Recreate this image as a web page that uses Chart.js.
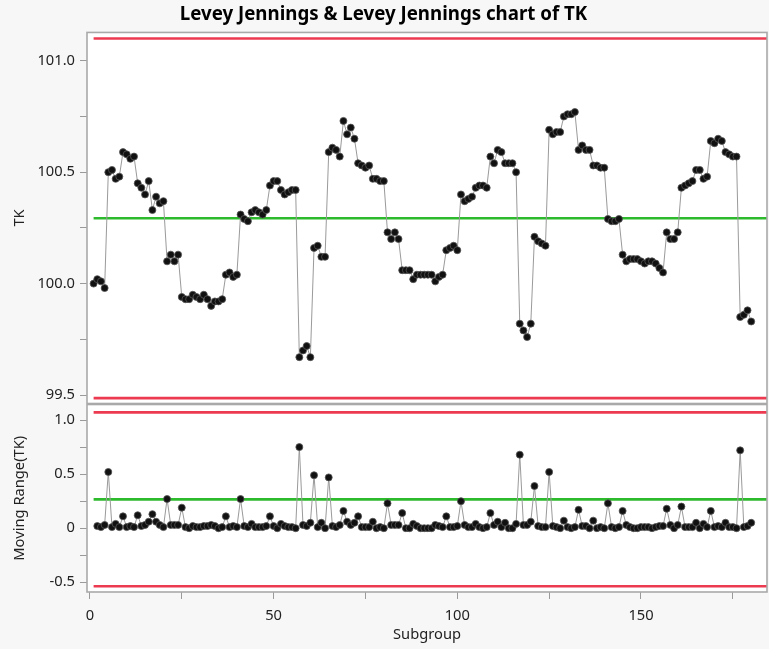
<!DOCTYPE html>
<html><head><meta charset="utf-8">
<script src="https://cdn.jsdelivr.net/npm/chart.js@4.4.1/dist/chart.umd.min.js"></script>
<style>
html,body{margin:0;padding:0;background:#f7f7f7;}
#wrap{position:relative;width:769px;height:649px;overflow:hidden;}
#c1{position:absolute;left:0;top:0;}
#c2{position:absolute;left:0;top:404px;}
</style></head><body>
<div id="wrap"><canvas id="c1" width="769" height="404"></canvas><canvas id="c2" width="769" height="245"></canvas></div>
<script>
// ---- data ----
const tkValues = [
100.00,100.02,100.01,99.98,100.50,100.51,100.47,100.48,100.59,100.58,
100.56,100.57,100.45,100.43,100.40,100.46,100.33,100.39,100.36,100.37,
100.10,100.13,100.10,100.13,99.94,99.93,99.93,99.95,99.94,99.93,
99.95,99.93,99.90,99.92,99.92,99.93,100.04,100.05,100.03,100.04,
100.31,100.29,100.28,100.32,100.33,100.32,100.31,100.33,100.44,100.46,
100.46,100.42,100.40,100.41,100.42,100.42,99.67,99.70,99.72,99.67,
100.16,100.17,100.12,100.12,100.59,100.61,100.60,100.57,100.73,100.67,
100.70,100.65,100.54,100.53,100.52,100.53,100.47,100.47,100.46,100.46,
100.23,100.20,100.23,100.20,100.06,100.06,100.06,100.02,100.04,100.04,
100.04,100.04,100.04,100.01,100.03,100.04,100.15,100.16,100.17,100.15,
100.40,100.37,100.38,100.39,100.43,100.44,100.44,100.43,100.57,100.54,
100.60,100.59,100.54,100.54,100.54,100.50,99.82,99.79,99.76,99.82,
100.21,100.19,100.18,100.17,100.69,100.67,100.68,100.68,100.75,100.76,
100.76,100.77,100.60,100.62,100.60,100.60,100.53,100.53,100.52,100.52,
100.29,100.28,100.28,100.29,100.13,100.10,100.11,100.11,100.11,100.10,
100.09,100.10,100.10,100.09,100.07,100.05,100.23,100.20,100.20,100.23,
100.43,100.44,100.45,100.46,100.51,100.51,100.47,100.48,100.64,100.63,
100.65,100.64,100.59,100.58,100.57,100.57,99.85,99.86,99.88,99.83
];
// moving range values for subgroups 2..180
const movingRange = [
0.02,0.01,0.03,0.52,0.01,0.04,0.01,0.11,0.01,
0.02,0.01,0.12,0.02,0.03,0.06,0.13,0.06,0.03,0.01,
0.27,0.03,0.03,0.03,0.19,0.01,0.00,0.02,0.01,0.01,
0.02,0.02,0.03,0.02,0.00,0.01,0.11,0.01,0.02,0.01,
0.27,0.02,0.01,0.04,0.01,0.01,0.01,0.02,0.11,0.02,
0.00,0.04,0.02,0.01,0.01,0.00,0.75,0.03,0.02,0.05,
0.49,0.01,0.05,0.00,0.47,0.02,0.01,0.03,0.16,0.06,
0.03,0.05,0.11,0.01,0.01,0.01,0.06,0.00,0.01,0.00,
0.23,0.03,0.03,0.03,0.14,0.00,0.00,0.04,0.02,0.00,
0.00,0.00,0.00,0.03,0.02,0.01,0.11,0.01,0.01,0.02,
0.25,0.03,0.01,0.01,0.04,0.01,0.00,0.01,0.14,0.03,
0.06,0.01,0.05,0.00,0.00,0.04,0.68,0.03,0.03,0.06,
0.39,0.02,0.01,0.01,0.52,0.02,0.01,0.00,0.07,0.01,
0.00,0.01,0.17,0.02,0.02,0.00,0.07,0.00,0.01,0.00,
0.23,0.01,0.00,0.01,0.16,0.03,0.01,0.00,0.00,0.01,
0.01,0.01,0.00,0.01,0.02,0.02,0.18,0.03,0.00,0.03,
0.20,0.01,0.01,0.01,0.05,0.00,0.04,0.01,0.16,0.01,
0.02,0.01,0.05,0.01,0.01,0.00,0.72,0.01,0.02,0.05
];
const tkLimits = [101.10, 100.293, 99.486];     // UCL, centre, LCL
const mrLimits = [1.071, 0.267, -0.537];        // UCL, centre, LCL
const tkMajorTicks = [99.5, 100.0, 100.5, 101.0];
const tkMinorTicks = [99.75, 100.25, 100.75];
const mrMajorTicks = [-0.5, 0, 0.5, 1.0];
const mrMinorTicks = [-0.25, 0.25, 0.75];
const subgroupMajorTicks = [0, 50, 100, 150];
const subgroupMinorTicks = [25, 75, 125, 175];
const xRange = [-0.8, 184.3];
const limitStart = 1;

// ---- styling ----
const FONT = "'Noto Sans', 'Open Sans', sans-serif";
const RED = '#ec3a51', GREEN = '#2dba2d', FRAME = '#a9a9a9';
const TXT = 14.7;

const framePlugin = {
  id: 'frame',
  beforeDraw(chart) {
    const {ctx, chartArea: a} = chart;
    ctx.save(); ctx.fillStyle = '#ffffff';
    ctx.fillRect(a.left, a.top, a.right - a.left, a.bottom - a.top); ctx.restore();
  },
  afterDraw(chart) {
    const {ctx, chartArea: a} = chart;
    ctx.save(); ctx.strokeStyle = FRAME; ctx.lineWidth = 1.6;
    ctx.strokeRect(a.left, a.top, a.right - a.left, a.bottom - a.top); ctx.restore();
  }
};

function noPad(s) { s.paddingTop = 0; s.paddingBottom = 0; s.paddingLeft = 0; s.paddingRight = 0; }

function limitSets(lims) {
  const colors = [RED, GREEN, RED];
  return lims.map((v, k) => ({
    data: [{x: limitStart, y: v}, {x: xRange[1], y: v}],
    borderColor: colors[k], borderWidth: 2.6, pointRadius: 0, order: 2
  }));
}
function dataSet(points) {
  return {
    data: points, borderColor: '#9a9a9a', borderWidth: 1,
    pointRadius: 3.5, pointBackgroundColor: '#111', pointBorderColor: '#555',
    pointBorderWidth: 0.8, order: 1
  };
}
function yScale(major, minor, min, max, title, fmt) {
  return {
    type: 'linear', min: min, max: max,
    afterBuildTicks: s => { s.ticks = major.concat(minor).sort((a, b) => a - b).map(v => ({value: v})); },
    afterFit: s => { s.width = 87; noPad(s); },
    ticks: {
      autoSkip: false, padding: 5, color: '#222', font: {family: FONT, size: TXT},
      callback: v => major.includes(v) ? fmt(v) : ''
    },
    grid: {drawOnChartArea: false, drawTicks: true, tickLength: 7, color: '#9a9a9a'},
    border: {display: false},
    title: {display: true, text: title, color: '#222', font: {family: FONT, size: TXT}, padding: {top: 11, bottom: 0}}
  };
}

const tkPoints = tkValues.map((v, i) => ({x: i + 1, y: v}));
const mrPoints = movingRange.map((v, i) => ({x: i + 2, y: v}));

new Chart(document.getElementById('c1'), {
  type: 'line',
  data: {datasets: [dataSet(tkPoints)].concat(limitSets(tkLimits))},
  options: {
    responsive: false, animation: false, devicePixelRatio: 1,
    layout: {autoPadding: false, padding: {left: 0, right: 2, top: 0, bottom: 0.5}},
    plugins: {
      legend: {display: false}, tooltip: {enabled: false},
      title: {display: true, text: 'Levey Jennings & Levey Jennings chart of TK', color: '#000',
              font: {family: FONT, size: 18.7, weight: 'bold'}, padding: {top: 3, bottom: 7}}
    },
    scales: {
      x: {type: 'linear', min: xRange[0], max: xRange[1], display: false},
      y: yScale(tkMajorTicks, tkMinorTicks, 99.462, 101.127, 'TK', v => v.toFixed(1))
    }
  },
  plugins: [framePlugin]
});

new Chart(document.getElementById('c2'), {
  type: 'line',
  data: {datasets: [dataSet(mrPoints)].concat(limitSets(mrLimits))},
  options: {
    responsive: false, animation: false, devicePixelRatio: 1,
    layout: {autoPadding: false, padding: {left: 0, right: 2, top: 0.5, bottom: 0}},
    plugins: {legend: {display: false}, tooltip: {enabled: false}},
    scales: {
      x: {
        type: 'linear', min: xRange[0], max: xRange[1],
        afterBuildTicks: s => { s.ticks = subgroupMajorTicks.concat(subgroupMinorTicks).sort((a, b) => a - b).map(v => ({value: v})); },
        afterFit: s => { s.height = 57; noPad(s); },
        ticks: {autoSkip: false, maxRotation: 0, padding: 8, color: '#222', font: {family: FONT, size: TXT},
                callback: v => subgroupMajorTicks.includes(v) ? String(v) : ''},
        grid: {drawOnChartArea: false, drawTicks: true, tickLength: 7, color: '#9a9a9a'},
        border: {display: false},
        title: {display: true, text: 'Subgroup', color: '#222', font: {family: FONT, size: TXT}, padding: {top: 0, bottom: 5}}
      },
      y: yScale(mrMajorTicks, mrMinorTicks, -0.59, 1.144, 'Moving Range(TK)', v => v === 0 ? '0' : v.toFixed(1))
    }
  },
  plugins: [framePlugin]
});
</script>
</body></html>
